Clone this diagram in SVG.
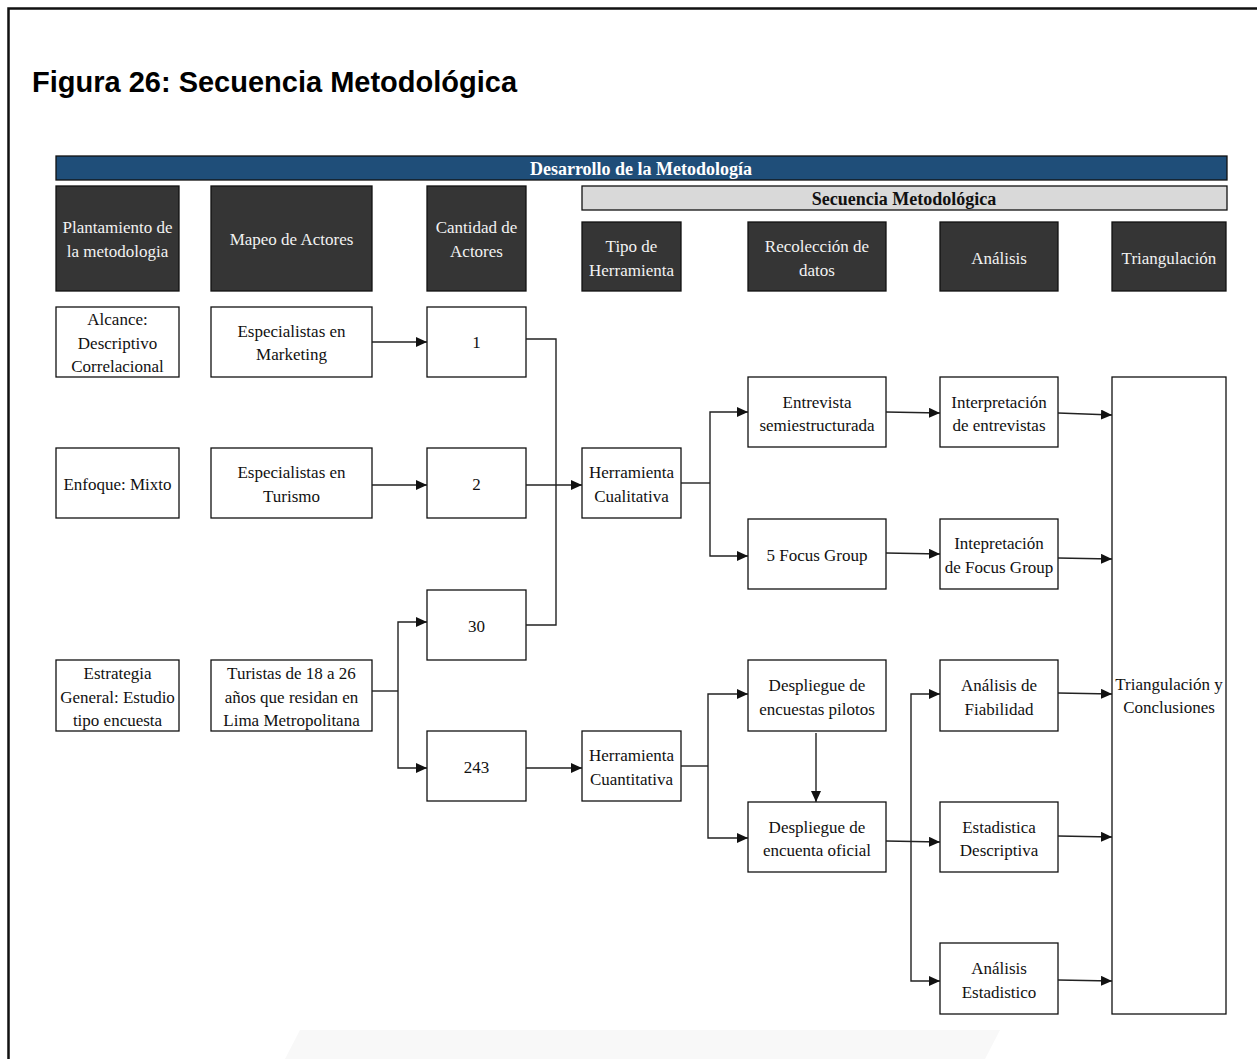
<svg xmlns="http://www.w3.org/2000/svg" width="1257" height="1059" viewBox="0 0 1257 1059">
<defs>
<style>
.t{font-family:"Liberation Serif","Times New Roman",serif;font-size:17px;fill:#111;text-anchor:middle}
.bt{font-size:18px;font-weight:bold}
.h{fill:#f2f2f2}
.b{fill:#fff;stroke:#111;stroke-width:1.3}
.d{fill:#353535;stroke:#111;stroke-width:1.3}
.c{fill:none;stroke:#222;stroke-width:1.4}
.a{marker-end:url(#ar)}
</style>
<marker id="ar" markerUnits="userSpaceOnUse" markerWidth="12" markerHeight="10" refX="11" refY="5" orient="auto">
<path d="M0,0 L11,5 L0,10 Z" fill="#111"/>
</marker>
</defs>
<rect width="1257" height="1059" fill="#fff"/>
<path d="M285,1059 L300,1030 L1000,1030 L985,1059 Z" fill="#f8f8f8"/>
<path d="M8.5,1059 V8.5 H1257" fill="none" stroke="#111" stroke-width="2.5"/>
<text x="32" y="92" font-family="Liberation Sans,Arial,sans-serif" font-weight="bold" font-size="29" fill="#000">Figura 26: Secuencia Metodológica</text>

<g id="bar-desarrollo"><rect x="56" y="156" width="1171" height="24" fill="#1f4e79" stroke="#111" stroke-width="1.3"/><text class="t bt" x="641" y="175" style="fill:#fff">Desarrollo de la Metodología</text></g>
<g id="bar-secuencia"><rect x="582" y="186" width="645" height="24" fill="#d9d9d9" stroke="#111" stroke-width="1.3"/><text class="t bt" x="904" y="205">Secuencia Metodológica</text></g>

<g id="h-plantamiento"><rect class="d" x="56" y="186" width="123" height="105"/><text class="t h" x="117.5" y="233">Plantamiento de</text><text class="t h" x="117.5" y="257">la metodologia</text></g>
<g id="h-mapeo"><rect class="d" x="211" y="186" width="161" height="105"/><text class="t h" x="291.5" y="245">Mapeo de Actores</text></g>
<g id="h-cantidad"><rect class="d" x="427" y="186" width="99" height="105"/><text class="t h" x="476.5" y="233">Cantidad de</text><text class="t h" x="476.5" y="257">Actores</text></g>
<g id="h-tipo"><rect class="d" x="582" y="222" width="99" height="69"/><text class="t h" x="631.5" y="252">Tipo de</text><text class="t h" x="631.5" y="276">Herramienta</text></g>
<g id="h-recoleccion"><rect class="d" x="748" y="222" width="138" height="69"/><text class="t h" x="817" y="252">Recolección de</text><text class="t h" x="817" y="276">datos</text></g>
<g id="h-analisis"><rect class="d" x="940" y="222" width="118" height="69"/><text class="t h" x="999" y="264">Análisis</text></g>
<g id="h-triangulacion"><rect class="d" x="1112" y="222" width="114" height="69"/><text class="t h" x="1169" y="264">Triangulación</text></g>

<g id="n-alcance"><rect class="b" x="56" y="307" width="123" height="70"/><text class="t" x="117.5" y="325">Alcance:</text><text class="t" x="117.5" y="349">Descriptivo</text><text class="t" x="117.5" y="372">Correlacional</text></g>
<g id="n-marketing"><rect class="b" x="211" y="307" width="161" height="70"/><text class="t" x="291.5" y="337">Especialistas en</text><text class="t" x="291.5" y="360">Marketing</text></g>
<g id="n-1"><rect class="b" x="427" y="307" width="99" height="70"/><text class="t" x="476.5" y="348">1</text></g>
<g id="n-enfoque"><rect class="b" x="56" y="448" width="123" height="70"/><text class="t" x="117.5" y="490">Enfoque: Mixto</text></g>
<g id="n-turismo"><rect class="b" x="211" y="448" width="161" height="70"/><text class="t" x="291.5" y="478">Especialistas en</text><text class="t" x="291.5" y="502">Turismo</text></g>
<g id="n-2"><rect class="b" x="427" y="448" width="99" height="70"/><text class="t" x="476.5" y="490">2</text></g>
<g id="n-cualitativa"><rect class="b" x="582" y="448" width="99" height="70"/><text class="t" x="631.5" y="478">Herramienta</text><text class="t" x="631.5" y="502">Cualitativa</text></g>
<g id="n-entrevista"><rect class="b" x="748" y="377" width="138" height="70"/><text class="t" x="817" y="408">Entrevista</text><text class="t" x="817" y="431">semiestructurada</text></g>
<g id="n-interp-entrevistas"><rect class="b" x="940" y="377" width="118" height="70"/><text class="t" x="999" y="408">Interpretación</text><text class="t" x="999" y="431">de entrevistas</text></g>
<g id="n-focus"><rect class="b" x="748" y="519" width="138" height="70"/><text class="t" x="817" y="561">5 Focus Group</text></g>
<g id="n-interp-focus"><rect class="b" x="940" y="519" width="118" height="70"/><text class="t" x="999" y="549">Intepretación</text><text class="t" x="999" y="573">de Focus Group</text></g>
<g id="n-30"><rect class="b" x="427" y="590" width="99" height="70"/><text class="t" x="476.5" y="632">30</text></g>
<g id="n-estrategia"><rect class="b" x="56" y="660" width="123" height="71"/><text class="t" x="117.5" y="679">Estrategia</text><text class="t" x="117.5" y="703">General: Estudio</text><text class="t" x="117.5" y="726">tipo encuesta</text></g>
<g id="n-turistas"><rect class="b" x="211" y="660" width="161" height="71"/><text class="t" x="291.5" y="679">Turistas de 18 a 26</text><text class="t" x="291.5" y="703">años que residan en</text><text class="t" x="291.5" y="726">Lima Metropolitana</text></g>
<g id="n-pilotos"><rect class="b" x="748" y="660" width="138" height="71"/><text class="t" x="817" y="691">Despliegue de</text><text class="t" x="817" y="715">encuestas pilotos</text></g>
<g id="n-fiabilidad"><rect class="b" x="940" y="660" width="118" height="71"/><text class="t" x="999" y="691">Análisis de</text><text class="t" x="999" y="715">Fiabilidad</text></g>
<g id="n-243"><rect class="b" x="427" y="731" width="99" height="70"/><text class="t" x="476.5" y="773">243</text></g>
<g id="n-cuantitativa"><rect class="b" x="582" y="731" width="99" height="70"/><text class="t" x="631.5" y="761">Herramienta</text><text class="t" x="631.5" y="785">Cuantitativa</text></g>
<g id="n-oficial"><rect class="b" x="748" y="802" width="138" height="70"/><text class="t" x="817" y="833">Despliegue de</text><text class="t" x="817" y="856">encuenta oficial</text></g>
<g id="n-descriptiva"><rect class="b" x="940" y="802" width="118" height="70"/><text class="t" x="999" y="833">Estadistica</text><text class="t" x="999" y="856">Descriptiva</text></g>
<g id="n-estadistico"><rect class="b" x="940" y="943" width="118" height="71"/><text class="t" x="999" y="974">Análisis</text><text class="t" x="999" y="998">Estadistico</text></g>
<g id="n-triangulacion"><rect class="b" x="1112" y="377" width="114" height="637"/><text class="t" x="1169" y="690">Triangulación y</text><text class="t" x="1169" y="713">Conclusiones</text></g>

<g id="connectors">
<path class="c a" d="M372,342 H427"/>
<path class="c a" d="M372,485 H427"/>
<path class="c" d="M526,339 H556 V625 H526"/>
<path class="c a" d="M526,485 H582"/>
<path class="c" d="M372,691 H398"/>
<path class="c a" d="M398,691 V622 H427"/>
<path class="c a" d="M398,691 V768 H427"/>
<path class="c a" d="M526,768 H582"/>
<path class="c" d="M681,483 H710"/>
<path class="c a" d="M710,483 V412 H748"/>
<path class="c a" d="M710,483 V556 H748"/>
<path class="c a" d="M886,412 L940,413"/>
<path class="c a" d="M1058,413 L1112,415"/>
<path class="c a" d="M886,553 L940,554"/>
<path class="c a" d="M1058,558 L1112,559"/>
<path class="c" d="M681,766 H708"/>
<path class="c a" d="M708,766 V694 H748"/>
<path class="c a" d="M708,766 V838 H748"/>
<path class="c a" d="M816,733 V802"/>
<path class="c a" d="M886,841 L940,842"/>
<path class="c a" d="M911,842 V694 H940"/>
<path class="c a" d="M911,842 V981 H940"/>
<path class="c a" d="M1058,693 L1112,694"/>
<path class="c a" d="M1058,836 L1112,837"/>
<path class="c a" d="M1058,980 L1112,981"/>
</g>
</svg>
